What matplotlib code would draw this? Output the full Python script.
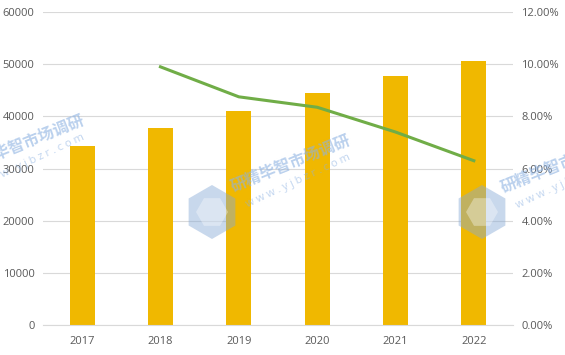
import matplotlib
matplotlib.use("Agg")
import math
import matplotlib.pyplot as plt
from matplotlib.ticker import FuncFormatter
from matplotlib.patches import Polygon

years = ["2017", "2018", "2019", "2020", "2021", "2022"]
values = [34300, 37700, 41000, 44500, 47700, 50600]
growth_years = ["2018", "2019", "2020", "2021", "2022"]
growth = [9.9, 8.75, 8.35, 7.4, 6.3]

left_ticks = [0, 10000, 20000, 30000, 40000, 50000, 60000]
right_ticks = [0, 2, 4, 6, 8, 10, 12]

bar_color = "#F0B800"
line_color = "#70AD47"
text_color = "#595959"
grid_color = "#D9D9D9"

plt.rcParams['font.family'] = ['Open Sans', 'DejaVu Sans']

W, H = 565, 355
fig = plt.figure(figsize=(W / 100, H / 100), dpi=100)
ax = fig.add_axes([0.076, 0.0845, 0.832, 0.8815])
x = list(range(len(years)))
ax.bar(x, values, width=0.32, color=bar_color, zorder=2)
ax.set_xlim(-0.5, len(years) - 0.5)
ax.set_ylim(0, 60000)
ax.set_yticks(left_ticks)
ax.set_xticks(x)
ax.set_xticklabels(years)
ax.grid(axis='y', color=grid_color, linewidth=0.8, zorder=0)
for s in ['top', 'right', 'left']:
    ax.spines[s].set_visible(False)
ax.spines['bottom'].set_color(grid_color)
ax.tick_params(axis='both', length=0, labelsize=8, colors=text_color, pad=6)
ax.tick_params(axis='x', pad=8)

ax2 = ax.twinx()
gx = [years.index(y) for y in growth_years]
ax2.plot(gx, growth, color=line_color, linewidth=2.2, zorder=3)
ax2.set_ylim(0, 12)
ax2.set_yticks(right_ticks)
ax2.yaxis.set_major_formatter(FuncFormatter(lambda v, p: f"{v:.2f}%"))
for s in ['top', 'right', 'left', 'bottom']:
    ax2.spines[s].set_visible(False)
ax2.tick_params(axis='y', length=0, labelsize=8, colors=text_color, pad=6)

# watermarks (decorative)
def fx(px):
    return px / W

def fy(py):
    return 1 - py / H

wm_color = "#8DB2E2"
for (tx, ty) in [(-33, 172), (233, 192), (503, 193)]:
    fig.text(fx(tx), fy(ty), "研精毕智市场调研", fontsize=11.5, color=wm_color, alpha=0.6,
             rotation=22, rotation_mode='anchor', family=['Noto Sans CJK SC', 'DejaVu Sans'],
             fontweight='bold', ha='left', va='baseline', zorder=10)
    fig.text(fx(tx + 15), fy(ty + 15), "w w w . y j b z r . c o m", fontsize=8, color=wm_color,
             alpha=0.55, rotation=25, rotation_mode='anchor', ha='left', va='baseline', zorder=10)

for (cx, cy) in [(212, 212), (482, 212)]:
    r = 27
    verts = [(fx(cx + r * math.cos(math.radians(60 * k + 30))), fy(cy + r * math.sin(math.radians(60 * k + 30))))
             for k in range(6)]
    fig.patches.append(Polygon(verts, closed=True, transform=fig.transFigure,
                               facecolor="#86A9D6", edgecolor="none", alpha=0.45, zorder=10))
    inner = [(fx(cx + 16 * math.cos(math.radians(60 * k))), fy(cy + 16 * math.sin(math.radians(60 * k))))
             for k in range(6)]
    fig.patches.append(Polygon(inner, closed=True, transform=fig.transFigure,
                               facecolor="#FFFFFF", edgecolor="none", alpha=0.35, zorder=11))

fig.savefig("out.png", dpi=100)
